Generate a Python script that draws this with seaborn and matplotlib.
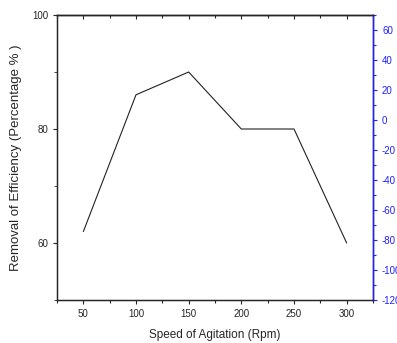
import matplotlib
matplotlib.use("Agg")
import matplotlib.pyplot as plt
import seaborn as sns
import pandas as pd
from matplotlib.ticker import MultipleLocator

speed = [50, 100, 150, 200, 250, 300]
efficiency = [62, 86, 90, 80, 80, 60]
left_ticks = [60, 80, 100]
right_ticks = [-120, -100, -80, -60, -40, -20, 0, 20, 40, 60]

sns.set_style("ticks")
plt.rcParams['font.family'] = ['Liberation Sans', 'DejaVu Sans']
plt.rcParams['axes.unicode_minus'] = False

df = pd.DataFrame({"speed": speed, "eff": efficiency})

fig = plt.figure(figsize=(3.97, 3.43), dpi=100)
ax = fig.add_axes([57/397, 43/343, 316/397, 285/343])
sns.lineplot(data=df, x="speed", y="eff", ax=ax, color="#222222", linewidth=0.8)
ax.set_xlim(25, 325)
ax.set_ylim(50, 100)
ax.set_xticks(speed)
ax.set_yticks(left_ticks)
ax.xaxis.set_minor_locator(MultipleLocator(25))
ax.yaxis.set_minor_locator(MultipleLocator(10))
ax.tick_params(axis='x', which='both', direction='out', labelsize=7, length=3, width=0.8)
ax.tick_params(axis='x', which='minor', length=2)
ax.tick_params(axis='y', which='major', direction='out', labelsize=7, length=3, width=0.8)
ax.tick_params(axis='y', which='minor', direction='out', length=2)
ax.set_xlabel("Speed of Agitation (Rpm)", fontsize=8.5, labelpad=7)
ax.set_ylabel("Removal of Efficiency (Percentage % )", fontsize=9.5, labelpad=7)
for s in ax.spines.values():
    s.set_linewidth(1.0)
    s.set_color("#222222")

top = ax.secondary_xaxis('top')
top.set_xticks(speed)
top.xaxis.set_minor_locator(MultipleLocator(25))
top.tick_params(axis='x', which='both', direction='in', labeltop=False, length=3, width=0.8)
top.tick_params(axis='x', which='minor', length=2)
top.spines['top'].set_linewidth(1.0)
top.spines['top'].set_color("#222222")

ax2 = ax.twinx()
ax2.set_ylim(-120, 70)
ax2.set_yticks(right_ticks)
ax2.yaxis.set_minor_locator(MultipleLocator(10))
ax2.tick_params(axis='y', which='both', colors='#2020ff', labelsize=7, direction='out', length=3, width=0.8)
ax2.tick_params(axis='y', which='minor', length=2)
ax2.spines['right'].set_color('#2020ff')
ax2.spines['right'].set_linewidth(1.0)

fig.savefig("out.png", dpi=100)
